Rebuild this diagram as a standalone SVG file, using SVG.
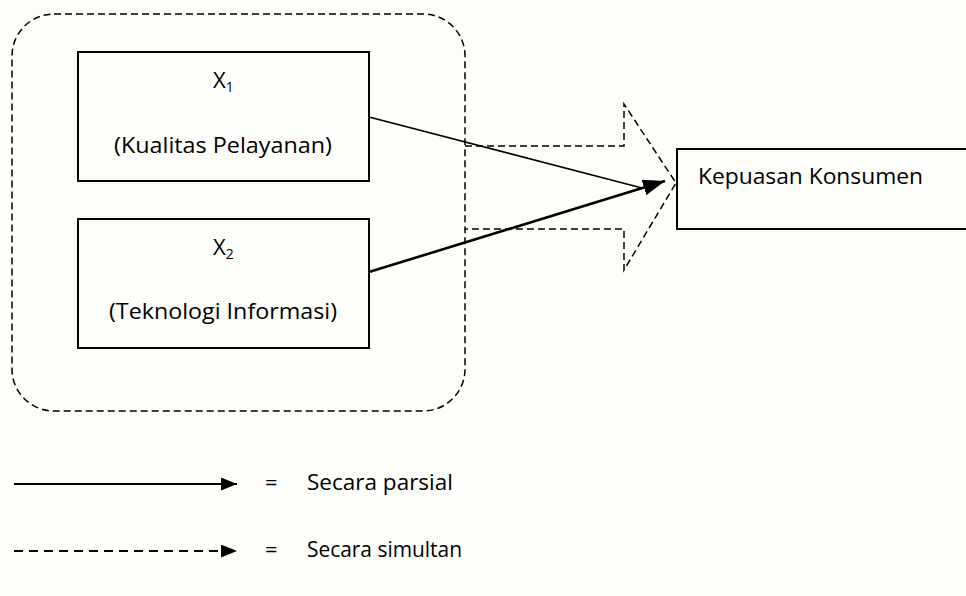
<svg xmlns="http://www.w3.org/2000/svg" width="966" height="596" viewBox="0 0 966 596">
<defs>
<marker id="ahl" viewBox="0 0 10 10" refX="10" refY="5" markerWidth="16" markerHeight="13" markerUnits="userSpaceOnUse" orient="auto" preserveAspectRatio="none">
<path d="M0,0 L10,5 L0,10 Z" fill="#000"/>
</marker>
<marker id="ahb" viewBox="0 0 10 10" refX="10" refY="5" markerWidth="22" markerHeight="16" markerUnits="userSpaceOnUse" orient="auto" preserveAspectRatio="none">
<path d="M0,0 L10,5 L0,10 Z" fill="#000"/>
</marker>
</defs>
<style>
.box{fill:none;stroke:#000;stroke-width:2}
.dash{fill:none;stroke:#000;stroke-width:1.5;stroke-dasharray:7 4}
.t{font-family:"Open Sans","Liberation Sans",sans-serif;font-size:22px;fill:#000}
.sub{font-size:14px}
</style>
<rect width="966" height="596" fill="#fdfdf9"/>
<g id="group-outline">
<rect class="dash" x="12" y="14" width="453" height="397" rx="42" ry="42"/>
</g>
<g id="node-x1">
<rect class="box" x="78" y="52" width="291" height="129"/>
<text class="t" x="213" y="88">X<tspan class="sub" dy="4">1</tspan></text>
<text class="t" x="223" y="153" text-anchor="middle" textLength="218" lengthAdjust="spacingAndGlyphs">(Kualitas Pelayanan)</text>
</g>
<g id="node-x2">
<rect class="box" x="78" y="219" width="291" height="129"/>
<text class="t" x="213" y="255">X<tspan class="sub" dy="4">2</tspan></text>
<text class="t" x="223" y="319" text-anchor="middle" textLength="228" lengthAdjust="spacingAndGlyphs">(Teknologi Informasi)</text>
</g>
<g id="node-y">
<rect class="box" x="677" y="149" width="300" height="80"/>
<text class="t" x="698" y="184" textLength="225" lengthAdjust="spacingAndGlyphs">Kepuasan Konsumen</text>
</g>
<g id="connectors">
<path class="dash" d="M465,146 H624 V104 L676,183 L624,270 V229 H465"/>
<line x1="369" y1="117" x2="642" y2="188" stroke="#000" stroke-width="1.8"/>
<line x1="369" y1="272" x2="665" y2="181" stroke="#000" stroke-width="2.6" marker-end="url(#ahb)"/>
</g>
<g id="legend">
<line x1="14" y1="484" x2="237" y2="484" stroke="#000" stroke-width="2" marker-end="url(#ahl)"/>
<text class="t" x="265" y="490">=</text>
<text class="t" x="307" y="490" textLength="146" lengthAdjust="spacingAndGlyphs">Secara parsial</text>
<line x1="14" y1="551" x2="237" y2="551" stroke="#000" stroke-width="2" stroke-dasharray="9 6" marker-end="url(#ahl)"/>
<text class="t" x="265" y="557">=</text>
<text class="t" x="307" y="557" textLength="155" lengthAdjust="spacingAndGlyphs">Secara simultan</text>
</g>
</svg>
